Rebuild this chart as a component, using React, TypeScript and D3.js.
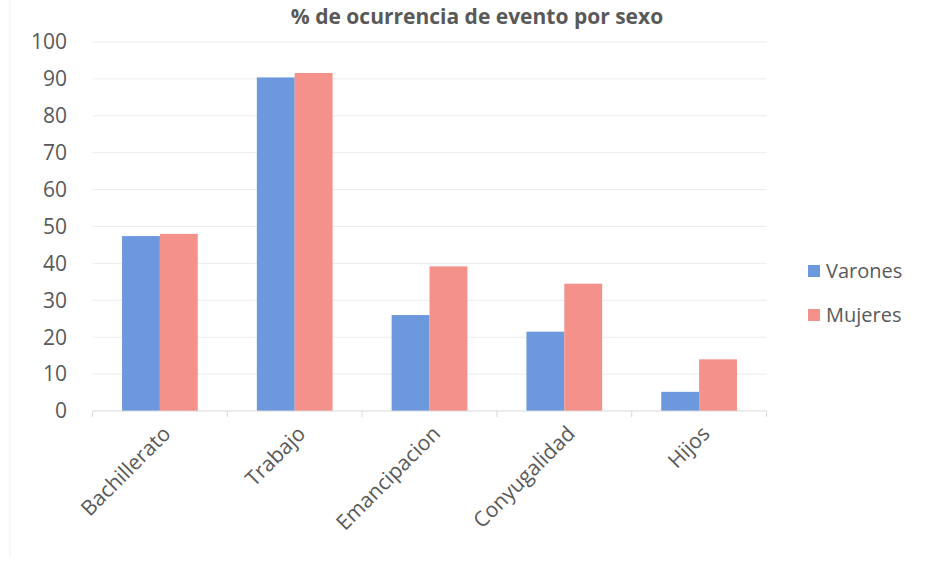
import React from "react";
import * as d3 from "d3";

const categories = ["Bachillerato", "Trabajo", "Emancipacion", "Conyugalidad", "Hijos"];
const varones = [47.4, 90.4, 26.0, 21.5, 5.2];
const mujeres = [48.0, 91.6, 39.2, 34.5, 14.0];
const seriesNames = ["Varones", "Mujeres"];
const yTicks = [0, 10, 20, 30, 40, 50, 60, 70, 80, 90, 100];
const title = "% de ocurrencia de evento por sexo";

const W = 930, H = 567;
const colors = ["#6C98DE", "#F4918A"];
const textColor = "#595959";
const font = "'Open Sans', sans-serif";

export default function App() {
  const left = 92.5, right = 766.5, top = 42, bottom = 411;
  const x = d3.scaleBand<string>().domain(categories).range([left, right]).paddingInner(0).paddingOuter(0);
  const y = d3.scaleLinear().domain([0, 100]).range([bottom, top]);
  const inner = d3.scaleBand<string>().domain(seriesNames).range([0, x.bandwidth()]).paddingInner(0).paddingOuter(0.78);
  const data = [varones, mujeres];

  return (
    <svg width={W} height={H} style={{ position: "absolute", left: 0, top: 0, background: "#fff" }}>
      <line x1={10} x2={10} y1={0} y2={H - 10} stroke="#f0f0f0" />
      <text x={477} y={24} textAnchor="middle" fontFamily={font} fontWeight="bold" fontSize={21} fill={textColor}>
        {title}
      </text>
      {yTicks.map((t) => (
        <g key={t}>
          {t > 0 && <line x1={left} x2={right} y1={y(t)} y2={y(t)} stroke="#ececec" strokeWidth={1} />}
          <text x={67} y={y(t)} dy="0.35em" textAnchor="end" fontFamily={font} fontSize={21} fill={textColor}>
            {t}
          </text>
        </g>
      ))}
      {seriesNames.map((s, si) =>
        categories.map((c, ci) => (
          <rect
            key={s + c}
            x={(x(c) as number) + (inner(s) as number)}
            y={y(data[si][ci])}
            width={inner.bandwidth()}
            height={bottom - y(data[si][ci])}
            fill={colors[si]}
          />
        ))
      )}
      <line x1={left} x2={right} y1={bottom} y2={bottom} stroke="#d9d9d9" />
      {[...categories.map((c) => x(c) as number), right].map((tx, i) => (
        <line key={i} x1={tx} x2={tx} y1={bottom} y2={bottom + 6} stroke="#d9d9d9" />
      ))}
      {categories.map((c) => {
        const cx = (x(c) as number) + x.bandwidth() / 2 + 12;
        const cy = bottom + 24;
        return (
          <text key={c} transform={`translate(${cx},${cy}) rotate(-45)`} textAnchor="end" fontFamily={font} fontSize={21} fill={textColor}>
            {c}
          </text>
        );
      })}
      {seriesNames.map((s, i) => (
        <g key={s} transform={`translate(808, ${271 + i * 44})`}>
          <rect x={0} y={-6} width={12} height={12} fill={colors[i]} />
          <text x={18} y={0} dy="0.35em" fontFamily={font} fontSize={20} fill={textColor}>
            {s}
          </text>
        </g>
      ))}
    </svg>
  );
}
